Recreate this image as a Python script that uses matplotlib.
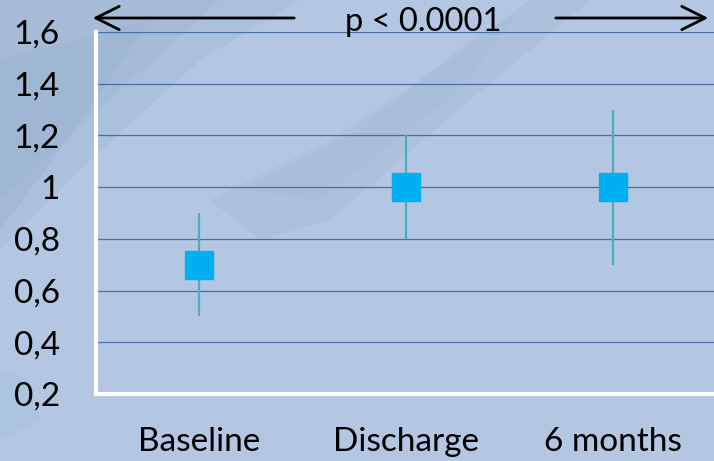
import matplotlib
matplotlib.use("Agg")
import matplotlib.pyplot as plt
from matplotlib.patches import Polygon, FancyArrowPatch

categories = ["Baseline", "Discharge", "6 months"]
values = [0.7, 1.0, 1.0]
lower = [0.5, 0.8, 0.7]
upper = [0.9, 1.2, 1.3]
yticks = [0.2, 0.4, 0.6, 0.8, 1.0, 1.2, 1.4, 1.6]
ytick_labels = ["0,2", "0,4", "0,6", "0,8", "1", "1,2", "1,4", "1,6"]
p_text = "p < 0.0001"

plt.rcParams['font.family'] = ['Lato', 'DejaVu Sans']

W, H = 714, 461
fig = plt.figure(figsize=(W / 100, H / 100), dpi=100)
bg = "#b3c6e2"
fig.patch.set_facecolor(bg)

# decorative brush strokes (background)
def fpoly(pts, color, alpha):
    poly = Polygon([(x / W, 1 - y / H) for x, y in pts], closed=True,
                   transform=fig.transFigure, facecolor=color, edgecolor='none',
                   alpha=alpha, zorder=0)
    fig.add_artist(poly)

fpoly([(0, 0), (300, 0), (200, 60), (80, 170), (0, 250)], "#9db5cf", 0.35)
fpoly([(0, 0), (220, 0), (120, 90), (0, 200)], "#9db5cf", 0.35)
fpoly([(0, 60), (150, 20), (60, 150), (0, 230)], "#92accb", 0.3)
fpoly([(210, 200), (330, 140), (450, 60), (530, 0), (590, 0), (470, 100), (330, 220), (260, 240)], "#a2b8d2", 0.35)
fpoly([(240, 190), (360, 130), (470, 40), (520, 10), (460, 90), (320, 200)], "#a2b8d2", 0.3)
fpoly([(0, 370), (30, 380), (40, 420), (0, 440)], "#a9c4dc", 0.5)

left, right = 96 / W, 1.0
bottom, top = 1 - 394 / H, 1 - 32 / H
ax = fig.add_axes([left, bottom, right - left, top - bottom])
ax.set_facecolor('none')

x = list(range(len(categories)))
yerr_low = [v - l for v, l in zip(values, lower)]
yerr_up = [u - v for v, u in zip(values, upper)]
ax.errorbar(x, values, yerr=[yerr_low, yerr_up], fmt='none', ecolor="#4bacc6",
            elinewidth=1.6, capsize=0, zorder=3)
ax.plot(x, values, linestyle='none', marker='s', markersize=19.5,
        markerfacecolor="#00b0f0", markeredgecolor="#00b0f0", zorder=4)

ax.set_xlim(-0.5, 2.5 - 2.5 / 207)
ax.set_ylim(0.2, 1.6)
ax.set_yticks(yticks)
ax.set_yticklabels(ytick_labels)
ax.set_xticks(x)
ax.set_xticklabels(categories)
ax.tick_params(axis='both', length=0, labelsize=24, colors='black')
ax.tick_params(axis='y', pad=26)
ax.tick_params(axis='x', pad=24)
ax.yaxis.grid(True, color="#4a6fa5", linewidth=0.9)
ax.set_axisbelow(True)
for s in ['top', 'right']:
    ax.spines[s].set_visible(False)
for s in ['left', 'bottom']:
    ax.spines[s].set_color('white')
    ax.spines[s].set_linewidth(3)

# arrows and p text
ay = 1 - 18 / H
for (x0, x1) in [(297, 90), (553, 711)]:
    fig.add_artist(FancyArrowPatch((x0 / W, ay), (x1 / W, ay),
                   transform=fig.transFigure, arrowstyle='->,head_length=1.2,head_width=0.6',
                   color='black', linewidth=2, mutation_scale=14))
fig.text(423 / W, 1 - 22 / H, p_text, ha='center', va='center', fontsize=23.5, color='black')

fig.savefig("out.png", dpi=100, facecolor=fig.get_facecolor())
